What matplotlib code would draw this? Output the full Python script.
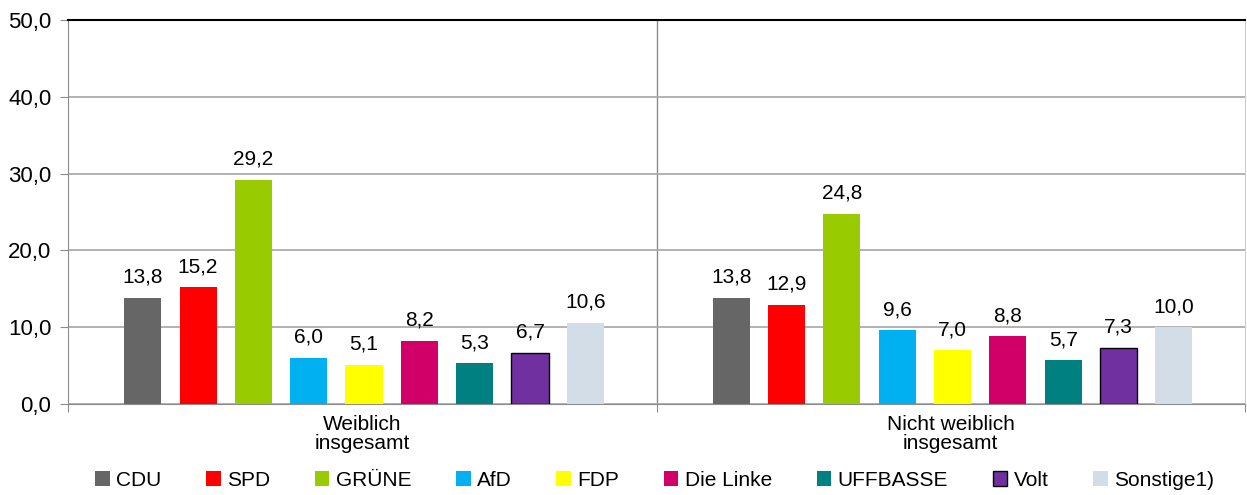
import matplotlib.pyplot as plt
import numpy as np

plt.rcParams['font.family'] = ['Liberation Sans', 'DejaVu Sans']

groups = ['Weiblich\ninsgesamt', 'Nicht weiblich\ninsgesamt']
parties = ['CDU', 'SPD', 'GRÜNE', 'AfD', 'FDP', 'Die Linke', 'UFFBASSE', 'Volt', 'Sonstige1)']
colors = ['#666666', '#ff0000', '#99cc00', '#00b0f0', '#ffff00', '#d10069', '#008080', '#7030a0', '#d3dde8']
weiblich = [13.8, 15.2, 29.2, 6.0, 5.1, 8.2, 5.3, 6.7, 10.6]
nicht_weiblich = [13.8, 12.9, 24.8, 9.6, 7.0, 8.8, 5.7, 7.3, 10.0]

values = np.array([weiblich, nicht_weiblich])

fig = plt.figure(figsize=(12.47, 4.95), dpi=100)
ax = fig.add_axes([68 / 1247, 1 - 404 / 495, 1177 / 1247, 384 / 495])

step = 0.094
width = 0.063
x = np.arange(len(groups))
for i, (party, col) in enumerate(zip(parties, colors)):
    pos = x + (i - 4) * step + 0.003
    edge = 'black' if party == 'Volt' else col
    bars = ax.bar(pos, values[:, i], width, color=col, edgecolor=edge,
                  linewidth=1 if party == 'Volt' else 0, label=party, zorder=3)
    for b, v in zip(bars, values[:, i]):
        ax.annotate(f'{v:.1f}'.replace('.', ','), (b.get_x() + b.get_width() / 2, v),
                    xytext=(0, 8), textcoords='offset points',
                    ha='center', va='bottom', fontsize=15)

ax.set_xlim(-0.5, 1.5)
ax.set_ylim(0, 50)
ax.set_yticks(np.arange(0, 51, 10))
ax.set_yticklabels([f'{t:.1f}'.replace('.', ',') for t in np.arange(0, 51, 10)], fontsize=16)
ax.yaxis.grid(True, color='#a6a6a6', linewidth=1.2, zorder=0)
ax.axvline(0.5, color='#8c8c8c', linewidth=1, zorder=1)

ax.set_xticks([-0.5, 0.5, 1.5])
ax.set_xticklabels([])
ax.set_xticks(x, minor=True)
ax.set_xticklabels(groups, minor=True, fontsize=15, linespacing=1.0)
ax.tick_params(axis='x', which='minor', length=0, pad=8)
ax.tick_params(axis='x', which='major', length=6, color='#8c8c8c')
ax.tick_params(axis='y', length=6, color='#8c8c8c', pad=6)

for s in ['left', 'bottom']:
    ax.spines[s].set_color('#8c8c8c')
ax.spines['top'].set_color('black')
ax.spines['top'].set_linewidth(1.5)
ax.spines['right'].set_color('#cccccc')

leg = fig.legend(loc='center', bbox_to_anchor=(0.525, 1 - 480 / 495), ncol=9, frameon=False,
                 fontsize=15, handlelength=0.7, handleheight=0.7, handletextpad=0.3,
                 columnspacing=2.15)

fig.savefig('out.png', dpi=100)
